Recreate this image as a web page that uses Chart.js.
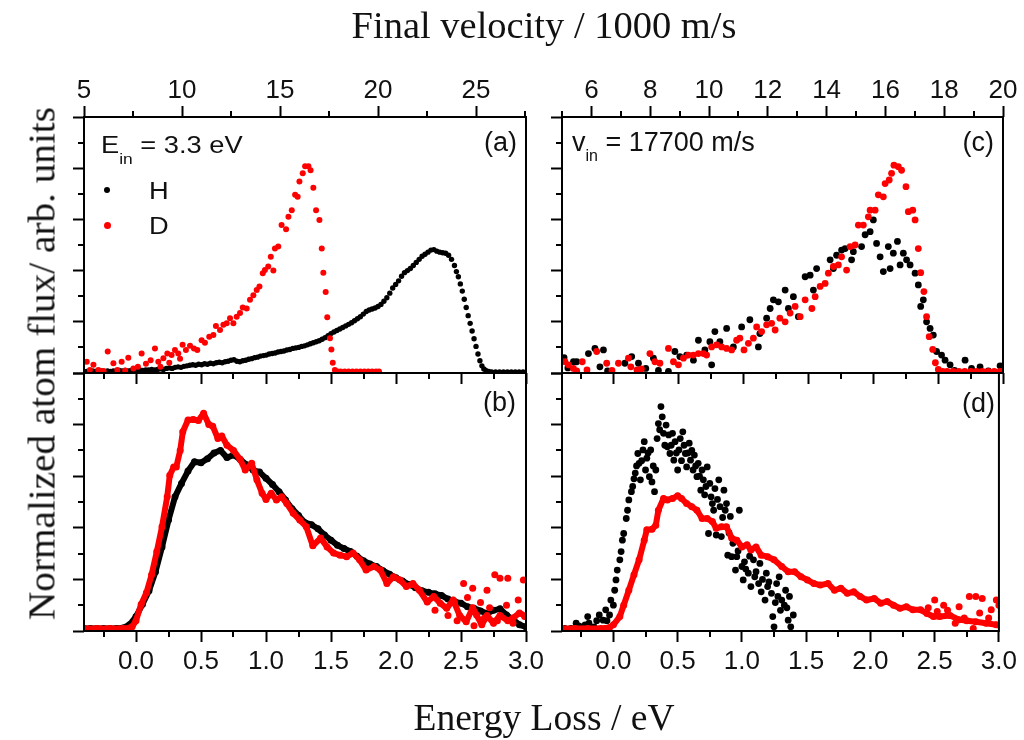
<!DOCTYPE html>
<html><head><meta charset="utf-8">
<script src="https://cdn.jsdelivr.net/npm/chart.js@4.4.0/dist/chart.umd.min.js"></script>
<style>
body{margin:0;background:#fff;}
#wrap{position:relative;width:1024px;height:740px;overflow:hidden;font-family:'Liberation Sans',Arial,sans-serif;color:#111;background:#fff;}
canvas{position:absolute;left:0;top:0;}
.t{position:absolute;white-space:nowrap;line-height:1;}
.serif{font-family:'Liberation Serif','Times New Roman',serif;font-size:37px;line-height:37px;height:37px;color:#111;}
.lab{font-size:27px;}
.labs{font-size:23.5px;transform-origin:0 0;transform:scaleX(1.16);}
.dot{position:absolute;border-radius:50%;}
</style></head>
<body><div id="wrap">
<canvas id="ca" width="1024" height="740"></canvas>
<canvas id="cb" width="1024" height="740"></canvas>
<canvas id="cc" width="1024" height="740"></canvas>
<canvas id="cd" width="1024" height="740"></canvas>
<div class="t serif" style="left:244px;width:600px;text-align:center;top:7px;transform:scaleX(1.04);">Final velocity / 1000 m/s</div>
<div class="t serif" style="left:244px;width:600px;text-align:center;top:699px;transform:scaleX(1.015);">Energy Loss / eV</div>
<div class="t serif" style="left:-258px;width:600px;text-align:center;top:345px;transform:rotate(-90deg) scaleX(1.06);">Normalized atom flux/ arb. units</div>
<div class="t labs" style="left:101px;top:134px;">E<span style="font-size:15px;position:relative;top:11px;">in</span> = 3.3 eV</div>
<div class="dot" style="left:104px;top:187px;width:6px;height:6px;background:#000;"></div>
<div class="t labs" style="left:149px;top:180px;">H</div>
<div class="dot" style="left:104px;top:222px;width:7px;height:7px;background:#ff0000;"></div>
<div class="t labs" style="left:149px;top:215px;">D</div>
<div class="t lab" style="left:417px;width:100px;text-align:right;top:129px;">(a)</div>
<div class="t lab" style="left:416px;width:100px;text-align:right;top:389px;">(b)</div>
<div class="t lab" style="left:572px;top:129px;">v<span style="font-size:16px;position:relative;top:10px;">in</span> = 17700 m/s</div>
<div class="t lab" style="left:894px;width:100px;text-align:right;top:129px;">(c)</div>
<div class="t lab" style="left:895px;width:100px;text-align:right;top:390px;">(d)</div>
</div>
<script>
// ---------- tick labels ----------
const velTicksA = [5, 10, 15, 20, 25];
const velMinorA = [7.5, 12.5, 17.5, 22.5, 27.5];
const velTicksC = [6, 8, 10, 12, 14, 16, 18, 20];
const velMinorC = [5, 7, 9, 11, 13, 15, 17, 19];
const eTicks = [0.0, 0.5, 1.0, 1.5, 2.0, 2.5, 3.0];
const eMinor = [-0.25, 0.25, 0.75, 1.25, 1.75, 2.25, 2.75];
const yTicks = [0, 1, 2, 3, 4, 5];
const yMinor = [0.5, 1.5, 2.5, 3.5, 4.5];

// ---------- (a) E_in = 3.3 eV, vs final velocity ----------
const a_H = [[5.0,.03],[5.15,.03],[5.3,.03],[5.45,.04],[5.6,.03],[5.75,.03],[5.9,.04],[6.05,.03],[6.2,.04],[6.35,.03],[6.5,.04],[6.65,.04],[6.8,.05],[6.95,.04],[7.1,.05],[7.25,.04],[7.4,.05],[7.55,.05],[7.7,.04],[7.85,.06],[8.0,.05],[8.15,.06],[8.3,.06],[8.45,.07],[8.6,.06],[8.75,.07],[8.9,.08],[9.05,.07],[9.2,.09],[9.35,.1],[9.5,.09],[9.65,.11],[9.8,.12],[9.95,.11],[10.1,.13],[10.25,.14],[10.4,.15],[10.55,.16],[10.7,.15],[10.85,.17],[11.0,.16],[11.15,.18],[11.3,.17],[11.45,.19],[11.6,.18],[11.75,.2],[11.9,.21],[12.05,.2],[12.2,.22],[12.35,.23],[12.5,.25],[12.65,.26],[12.8,.23],[12.95,.22],[13.1,.24],[13.25,.25],[13.4,.27],[13.55,.28],[13.7,.3],[13.85,.31],[14.0,.33],[14.15,.34],[14.3,.35],[14.45,.37],[14.6,.38],[14.75,.39],[14.9,.41],[15.05,.42],[15.2,.43],[15.35,.45],[15.5,.46],[15.65,.48],[15.8,.49],[15.95,.5],[16.1,.52],[16.25,.53],[16.4,.55],[16.55,.57],[16.7,.59],[16.85,.61],[17.0,.63],[17.15,.66],[17.3,.69],[17.45,.73],[17.6,.77],[17.75,.8],[17.9,.83],[18.05,.86],[18.2,.89],[18.35,.92],[18.5,.95],[18.65,.98],[18.8,1.02],[18.95,1.06],[19.1,1.1],[19.25,1.15],[19.4,1.2],[19.55,1.23],[19.7,1.25],[19.85,1.27],[20.0,1.3],[20.15,1.34],[20.3,1.4],[20.45,1.47],[20.6,1.56],[20.75,1.66],[20.9,1.73],[21.05,1.8],[21.2,1.89],[21.35,1.96],[21.5,2.0],[21.65,2.04],[21.8,2.1],[21.95,2.16],[22.1,2.22],[22.25,2.28],[22.4,2.32],[22.55,2.36],[22.7,2.4],[22.85,2.41],[23.0,2.38],[23.15,2.36],[23.3,2.35],[23.45,2.34],[23.6,2.3],[23.75,2.22],[23.9,2.1],[24.0,1.98],[24.1,1.88],[24.2,1.74],[24.3,1.6],[24.4,1.44],[24.5,1.28],[24.6,1.12],[24.7,.97],[24.8,.82],[24.9,.67],[25.0,.52],[25.1,.37],[25.2,.24],[25.3,.14],[25.4,.08],[25.5,.05],[25.65,.03],[25.8,.02],[26.0,.02],[26.2,.02],[26.4,.02],[26.6,.02],[26.8,.02],[27.0,.02],[27.2,.02],[27.4,.02]];
const a_D = [[5.14,.22],[5.3,.06],[5.48,.16],[5.73,.06],[6.0,.04],[6.21,.42],[6.5,.19],[6.7,.06],[6.92,.22],[7.1,.05],[7.26,.3],[7.52,.09],[7.75,.12],[7.94,.38],[8.16,.18],[8.4,.25],[8.62,.48],[8.79,.22],[8.9,.12],[9.05,.29],[9.25,.38],[9.35,.2],[9.47,.35],[9.64,.45],[9.81,.38],[9.9,.28],[10.03,.55],[10.2,.45],[10.41,.53],[10.61,.48],[10.78,.45],[11.0,.64],[11.17,.59],[11.39,.71],[11.6,.74],[11.73,.92],[11.94,.84],[12.11,.94],[12.28,.97],[12.45,1.07],[12.62,.97],[12.79,1.1],[12.96,1.17],[13.1,1.28],[13.3,1.26],[13.47,1.43],[13.64,1.52],[13.81,1.62],[13.95,1.69],[14.12,1.95],[14.23,2.01],[14.4,2.08],[14.53,2.27],[14.66,2.0],[14.74,2.43],[14.91,2.47],[15.08,2.89],[15.31,2.81],[15.43,3.05],[15.6,3.18],[15.77,3.48],[15.9,3.44],[15.99,3.74],[16.16,3.9],[16.28,4.04],[16.45,4.04],[16.56,3.96],[16.7,3.62],[16.84,3.18],[17.01,2.99],[17.13,2.43],[17.21,1.96],[17.33,1.58],[17.41,1.09],[17.55,.68],[17.62,.46],[17.69,.2],[17.8,.06],[17.95,.03],[18.1,.03],[18.3,.03],[18.5,.03],[18.7,.03],[18.9,.03],[19.1,.03],[19.3,.03],[19.5,.03],[19.7,.03],[19.9,.03],[20.05,.03]];

// ---------- (b) E_in = 3.3 eV, vs energy loss ----------
const b_H = [[-0.40,.05],[-0.35,.05],[-0.30,.05],[-0.25,.05],[-0.20,.05],[-0.15,.05],[-0.10,.06],[-0.05,.12],[0.00,.28],[0.05,.52],[0.10,.78],[0.15,1.15],[0.20,1.63],[0.25,2.15],[0.30,2.6],[0.35,2.86],[0.40,3.1],[0.45,3.28],[0.50,3.26],[0.55,3.34],[0.60,3.45],[0.65,3.5],[0.70,3.36],[0.75,3.41],[0.80,3.33],[0.85,3.22],[0.90,3.12],[0.95,3.08],[1.00,2.96],[1.05,2.84],[1.10,2.7],[1.15,2.54],[1.20,2.37],[1.25,2.24],[1.30,2.1],[1.35,2.06],[1.40,1.98],[1.45,1.86],[1.50,1.76],[1.55,1.66],[1.60,1.6],[1.65,1.54],[1.70,1.45],[1.75,1.36],[1.80,1.3],[1.85,1.25],[1.90,1.17],[1.95,1.1],[2.00,1.03],[2.05,.97],[2.10,.9],[2.15,.84],[2.20,.78],[2.25,.75],[2.30,.72],[2.35,.69],[2.40,.62],[2.45,.57],[2.50,.54],[2.55,.47],[2.60,.44],[2.65,.39],[2.70,.34],[2.75,.4],[2.80,.43],[2.85,.31],[2.90,.22],[2.95,.12],[3.00,.08]];
const b_D = [[-0.40,.05],[-0.30,.05],[-0.20,.05],[-0.10,.05],[-0.05,.06],[-0.03,.08],[0.00,.2],[0.04,.52],[0.08,.74],[0.12,1.09],[0.16,1.54],[0.20,2.02],[0.24,2.6],[0.26,3.02],[0.29,3.18],[0.31,3.18],[0.34,3.5],[0.36,3.86],[0.40,4.09],[0.44,4.1],[0.48,4.08],[0.52,4.22],[0.56,4.0],[0.59,3.97],[0.63,3.73],[0.66,3.78],[0.70,3.6],[0.75,3.5],[0.80,3.33],[0.84,3.12],[0.89,3.25],[0.93,2.93],[0.97,2.67],[1.00,2.55],[1.04,2.67],[1.08,2.54],[1.12,2.6],[1.16,2.47],[1.21,2.28],[1.26,2.15],[1.31,2.02],[1.36,1.65],[1.42,1.8],[1.47,1.63],[1.52,1.51],[1.57,1.47],[1.62,1.44],[1.67,1.51],[1.72,1.38],[1.77,1.18],[1.83,1.25],[1.88,1.18],[1.93,.92],[1.98,1.05],[2.03,.99],[2.08,.86],[2.13,.92],[2.18,.79],[2.24,.56],[2.29,.67],[2.34,.54],[2.39,.44],[2.44,.6],[2.49,.3],[2.54,.18],[2.59,.45],[2.66,.12],[2.70,.3],[2.75,.15],[2.80,.3],[2.86,.2],[2.90,.25],[2.95,.35],[3.00,.28]];
const b_Dtail = [[2.3,.4],[2.4,.3],[2.45,.55],[2.47,.2],[2.52,.92],[2.55,.65],[2.59,.83],[2.62,.31],[2.65,.55],[2.7,.79],[2.72,.45],[2.76,1.09],[2.8,1.02],[2.85,.5],[2.86,1.02],[2.9,.15],[2.94,.6],[2.98,.99],[2.99,.28],[2.6,.1],[2.68,.25],[2.78,.2]];

// ---------- (c) v_in = 17700 m/s, vs final velocity ----------
const c_H = [[5.07,.3],[5.2,.1],[5.39,.22],[5.5,.22],[5.9,.38],[6.12,.48],[6.29,.12],[6.41,.45],[6.55,.04],[7.14,.19],[7.37,.32],[7.6,.19],[7.85,.09],[8.11,.29],[8.28,.05],[8.62,.03],[8.84,.42],[9.01,.32],[9.24,.35],[9.47,.25],[9.64,.64],[9.86,.45],[10.03,.61],[10.09,.16],[10.2,.81],[10.37,.61],[10.6,.87],[10.83,.51],[11.11,.9],[11.39,1.04],[11.68,.51],[11.73,.77],[11.96,1.07],[12.08,1.26],[12.19,1.43],[12.36,1.39],[12.59,1.62],[12.7,1.26],[12.87,1.49],[13.04,1.1],[13.27,1.88],[13.44,1.91],[13.55,1.62],[13.66,2.04],[14.12,2.21],[14.23,2.04],[14.34,2.3],[14.51,2.4],[14.63,2.43],[14.85,2.21],[14.91,2.37],[15.19,2.47],[15.31,2.7],[15.48,2.76],[15.59,2.99],[15.7,2.53],[15.82,2.27],[15.93,1.98],[16.1,2.47],[16.16,2.04],[16.27,2.34],[16.41,2.57],[16.5,2.11],[16.61,2.34],[16.72,2.21],[16.84,2.11],[17.01,1.95],[17.12,1.72],[17.2,1.3],[17.29,1.43],[17.4,1.0],[17.52,.87],[17.63,.74],[17.74,.42],[17.91,.35],[18.03,.25],[18.2,.16],[18.35,.05],[18.71,.25],[18.93,.09],[19.22,.12],[19.5,.04],[19.9,.14]];
const c_D = [[5.1,.22],[5.22,.16],[5.39,.09],[5.5,.04],[5.69,.22],[5.85,.06],[6.18,.42],[6.52,.19],[6.7,.05],[6.92,.19],[7.26,.29],[7.34,.12],[7.55,.06],[7.7,.08],[7.99,.38],[8.16,.22],[8.33,.19],[8.62,.48],[8.79,.22],[8.96,.16],[9.13,.29],[9.3,.35],[9.47,.35],[9.64,.38],[9.81,.38],[9.92,.35],[10.09,.51],[10.26,.55],[10.43,.51],[10.6,.48],[10.77,.45],[10.94,.64],[11.05,.68],[11.19,.45],[11.34,.58],[11.51,.68],[11.62,.9],[11.79,.81],[11.96,.94],[12.13,.97],[12.25,.84],[12.41,1.07],[12.59,1.0],[12.76,1.17],[12.93,1.3],[13.1,1.1],[13.27,1.43],[13.5,1.26],[13.61,1.49],[13.78,1.69],[13.95,1.75],[14.06,1.95],[14.23,2.08],[14.4,2.11],[14.51,2.27],[14.68,2.01],[14.8,2.47],[14.97,2.5],[15.08,2.89],[15.25,2.89],[15.42,3.05],[15.48,3.18],[15.65,3.18],[15.76,3.48],[15.93,3.44],[15.99,3.7],[16.13,3.77],[16.21,3.9],[16.29,4.06],[16.44,4.03],[16.55,3.96],[16.7,3.64],[16.78,3.15],[16.93,3.18],[17.01,2.99],[17.12,2.43],[17.2,1.96],[17.31,1.59],[17.4,1.1],[17.49,.71],[17.61,.46],[17.7,.2],[17.8,.07],[17.95,.03],[18.1,.03],[18.3,.03],[18.5,.03],[18.7,.03],[18.9,.03],[19.1,.03],[19.3,.03],[19.5,.03],[19.7,.03],[19.9,.03]];

// ---------- (d) v_in = 17700 m/s, vs energy loss ----------
const d_H = [[-0.38,.05],[-0.33,.05],[-0.29,.15],[-0.27,.1],[-0.25,.08],[-0.22,.12],[-0.2,.28],[-0.19,.15],[-0.15,.08],[-0.13,.2],[-0.11,.31],[-0.08,.21],[-0.06,.41],[-0.05,.2],[-0.03,.31],[-0.02,.6],[0.0,.5],[0.01,.79],[0.02,.99],[0.03,1.18],[0.05,1.38],[0.06,1.54],[0.07,1.76],[0.08,1.89],[0.1,2.18],[0.11,2.34],[0.12,2.54],[0.14,2.7],[0.15,2.8],[0.16,2.95],[0.17,3.06],[0.18,3.2],[0.19,3.44],[0.2,3.25],[0.21,2.93],[0.22,3.3],[0.23,3.51],[0.24,3.67],[0.25,3.12],[0.26,3.35],[0.27,3.45],[0.28,2.99],[0.29,3.51],[0.3,2.89],[0.31,3.2],[0.32,2.7],[0.33,3.12],[0.34,3.73],[0.35,4.02],[0.36,3.9],[0.37,4.35],[0.38,4.15],[0.39,3.83],[0.4,3.6],[0.41,3.99],[0.42,3.57],[0.43,3.8],[0.44,3.44],[0.45,3.6],[0.46,3.83],[0.47,3.31],[0.48,3.67],[0.49,3.45],[0.5,3.12],[0.51,3.51],[0.52,3.73],[0.53,3.3],[0.54,3.86],[0.55,3.6],[0.56,3.44],[0.57,3.18],[0.58,3.45],[0.59,3.64],[0.6,3.31],[0.61,3.5],[0.62,3.12],[0.63,3.41],[0.64,3.2],[0.65,2.99],[0.66,3.25],[0.67,3.0],[0.68,2.73],[0.69,3.12],[0.7,2.93],[0.71,2.64],[0.72,2.8],[0.73,3.18],[0.74,1.89],[0.75,2.86],[0.76,2.6],[0.77,2.47],[0.78,2.34],[0.79,2.76],[0.8,1.86],[0.81,2.55],[0.82,2.93],[0.83,2.41],[0.84,1.83],[0.85,2.2],[0.86,2.73],[0.87,2.34],[0.88,2.47],[0.89,1.47],[0.9,1.9],[0.91,2.22],[0.92,1.44],[0.93,1.7],[0.95,1.18],[0.96,1.44],[0.97,1.55],[0.98,2.34],[1.0,1.25],[1.01,.99],[1.02,1.34],[1.03,1.2],[1.05,1.12],[1.06,1.45],[1.07,.86],[1.09,1.38],[1.1,1.05],[1.11,1.15],[1.13,.92],[1.14,1.31],[1.15,.76],[1.16,1.0],[1.18,.6],[1.19,1.12],[1.2,.86],[1.21,.95],[1.23,.73],[1.24,.28],[1.25,.08],[1.26,.55],[1.27,.92],[1.28,.67],[1.29,1.05],[1.3,.4],[1.31,.6],[1.33,.5],[1.34,.79],[1.35,.45],[1.36,.21],[1.37,.67],[1.38,.08],[1.4,.31]];
const d_D = [[-0.4,.05],[-0.3,.05],[-0.2,.05],[-0.1,.05],[-0.03,.07],[0.0,.12],[0.05,.28],[0.08,.5],[0.12,.79],[0.16,1.09],[0.2,1.38],[0.24,1.76],[0.26,1.96],[0.3,1.97],[0.33,2.05],[0.35,2.34],[0.39,2.57],[0.42,2.54],[0.46,2.57],[0.5,2.62],[0.53,2.57],[0.57,2.47],[0.61,2.41],[0.65,2.34],[0.69,2.18],[0.73,2.18],[0.77,2.12],[0.8,1.99],[0.84,2.02],[0.88,2.02],[0.92,1.8],[0.96,1.76],[1.0,1.63],[1.04,1.67],[1.07,1.57],[1.11,1.63],[1.15,1.47],[1.2,1.44],[1.25,1.38],[1.31,1.25],[1.36,1.15],[1.41,1.15],[1.46,1.05],[1.51,.99],[1.56,.92],[1.61,.89],[1.67,.92],[1.72,.79],[1.77,.83],[1.82,.73],[1.87,.76],[1.92,.67],[1.97,.6],[2.03,.63],[2.08,.54],[2.13,.57],[2.18,.5],[2.23,.44],[2.28,.47],[2.33,.41],[2.39,.41],[2.44,.34],[2.49,.28],[2.54,.28],[2.62,.3],[2.69,.22],[2.75,.2],[2.82,.18],[2.9,.15],[2.98,.12]];
const d_Dtail = [[2.5,.6],[2.57,.5],[2.66,.15],[2.69,.47],[2.73,.25],[2.77,.67],[2.8,.05],[2.82,.67],[2.87,.63],[2.94,.41],[2.98,.6],[2.6,.4],[2.45,.45],[2.52,.38],[2.85,.35],[2.92,.25],[3.0,.5]];

// ---------- styling ----------
const BLACK = '#000000', RED = '#ff0000';
const MAJOR_LEN = 11, MINOR_LEN = 6;
const TICK_FONT = {family: "'Liberation Sans', Arial, sans-serif", size: 26, lineHeight: 1};

const toXY = arr => arr.map(p => ({x: p[0], y: p[1]}));

const minorTicksPlugin = {
  id: 'minorTicks',
  afterDraw(chart, args, opts) {
    const ctx = chart.ctx, a = chart.chartArea;
    ctx.save();
    ctx.strokeStyle = '#000'; ctx.lineWidth = 2;
    ctx.beginPath();
    const lists = opts.lists || {};
    Object.keys(lists).forEach(id => {
      const sc = chart.scales[id]; if (!sc) return;
      const pos = sc.options.position;
      Array.from(lists[id]).forEach(v => {
        const p = Math.round(sc.getPixelForValue(v));
        if (pos === 'top') { ctx.moveTo(p, a.top); ctx.lineTo(p, a.top - MINOR_LEN); }
        else if (pos === 'bottom') { ctx.moveTo(p, a.bottom); ctx.lineTo(p, a.bottom + MINOR_LEN); }
        else { ctx.moveTo(a.left, p); ctx.lineTo(a.left - MINOR_LEN, p); }
      });
    });
    ctx.stroke();
    ctx.strokeRect(a.left, a.top, a.right - a.left, a.bottom - a.top);
    ctx.restore();
  }
};

function axis(pos, min, max, major, fmt, showLabels, size, pad) {
  const horiz = (pos === 'top' || pos === 'bottom');
  return {
    type: 'linear', position: pos, min: min, max: max,
    afterBuildTicks: s => { s.ticks = major.map(v => ({value: v})); },
    afterFit: s => { if (horiz) s.height = size; else s.width = size; },
    grid: {display: true, drawOnChartArea: false, drawTicks: true, tickLength: MAJOR_LEN, tickWidth: 2, tickColor: '#000'},
    border: {display: false},
    ticks: {display: showLabels, autoSkip: false, maxRotation: 0, minRotation: 0, padding: pad, color: '#111', font: TICK_FONT,
            callback: v => fmt(v)}
  };
}
const fmtInt = v => String(Math.round(v));
const fmt1 = v => Number(v).toFixed(1);

function dots(data, color, r) {
  return {data: toXY(data), xAxisID: 'x', yAxisID: 'y', showLine: false, backgroundColor: color, borderColor: color,
          borderWidth: 0, pointBorderWidth: 0, pointRadius: r, pointHoverRadius: r, clip: 0};
}
function band(data, color, w, r) {
  return {data: toXY(data), xAxisID: 'x', yAxisID: 'y', showLine: true, backgroundColor: color, borderColor: color,
          borderWidth: w, pointBorderWidth: 0, pointRadius: r, pointHoverRadius: r, tension: 0,
          borderJoinStyle: 'round', borderCapStyle: 'round', clip: 0};
}

function makePanel(id, datasets, scales, padding, minorLists) {
  return new Chart(document.getElementById(id), {
    type: 'scatter',
    data: {datasets: datasets},
    options: {
      responsive: false, animation: false, devicePixelRatio: 1, events: [],
      layout: {padding: padding},
      scales: scales,
      plugins: {legend: {display: false}, tooltip: {enabled: false}, minorTicks: {lists: minorLists}}
    },
    plugins: [minorTicksPlugin]
  });
}

// (a)
makePanel('ca',
  [dots(a_D, RED, 3), dots(a_H, BLACK, 2.7)],
  {x: axis('top', 5, 27.55, velTicksA, fmtInt, true, 50, 2),
   xe: axis('bottom', -0.4, 3.0, eTicks, fmt1, false, 15, 0),
   y: axis('left', 0, 5, yTicks, fmtInt, false, 20, 0)},
  {left: 64, right: 498, top: 67, bottom: 352},
  {x: velMinorA, xe: eMinor, y: yMinor});
// (b)
makePanel('cb',
  [band(b_D, RED, 6, 3.5), dots(b_Dtail, RED, 3.5), band(b_H, BLACK, 6, 3.5)],
  {x: axis('bottom', -0.4, 3.0, eTicks, fmt1, true, 60, 7),
   y: axis('left', 0, 5, yTicks, fmtInt, false, 20, 0)},
  {left: 64, right: 498, top: 373, bottom: 49},
  {x: eMinor, y: yMinor});
// (c)
makePanel('cc',
  [dots(c_D, RED, 3.4), dots(c_H, BLACK, 3.4)],
  {x: axis('top', 5, 20, velTicksC, fmtInt, true, 50, 2),
   xe: axis('bottom', -0.4, 3.0, eTicks, fmt1, false, 15, 0),
   y: axis('left', 0, 5, yTicks, fmtInt, false, 20, 0)},
  {left: 542, right: 21, top: 67, bottom: 352},
  {x: velMinorC, xe: eMinor, y: yMinor});
// (d)
makePanel('cd',
  [band(d_D, RED, 6, 3.5), dots(d_Dtail, RED, 3.5), dots(d_H, BLACK, 3.4)],
  {x: axis('bottom', -0.4, 3.0, eTicks, fmt1, true, 60, 7),
   y: axis('left', 0, 5, yTicks, fmtInt, false, 20, 0)},
  {left: 542, right: 21, top: 373, bottom: 49},
  {x: eMinor, y: yMinor});
</script>
</body></html>
